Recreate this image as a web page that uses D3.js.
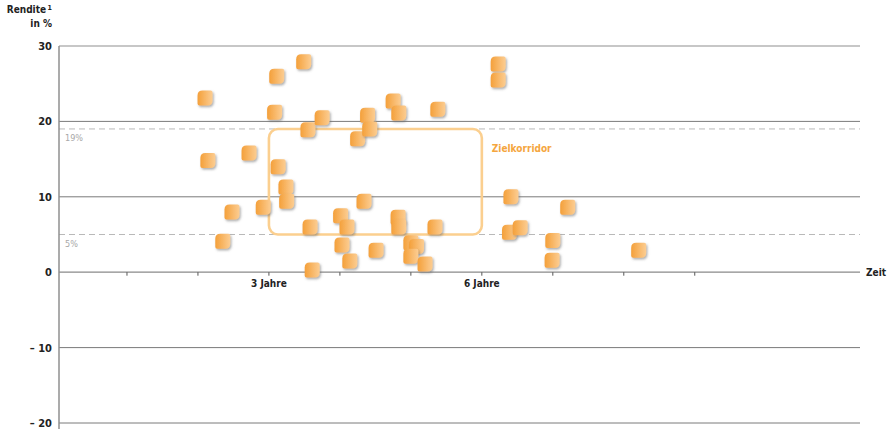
<!DOCTYPE html>
<html>
<head>
<meta charset="utf-8">
<script src="https://cdn.jsdelivr.net/npm/d3@7"></script>
<style>
  html, body { margin: 0; padding: 0; background: #fff; }
  svg { display: block; font-family: "DejaVu Sans Condensed", "DejaVu Sans", sans-serif; }
</style>
</head>
<body>
<svg id="chart" width="889" height="429"></svg>
<script>
// Holding period in years and annual return in percent for each investment
const years = [2.10, 2.14, 2.35, 2.48, 2.72, 2.92, 3.11, 3.08, 3.13, 3.24, 3.25, 3.49, 3.55, 3.75, 3.58,
  3.61, 4.01, 4.10, 4.03, 4.14, 4.25, 4.34, 4.39, 4.42, 4.51, 4.75, 4.83, 4.82, 4.83, 5.00,
  5.08, 5.00, 5.20, 5.34, 5.38, 6.23, 6.23, 6.41, 6.39, 6.54, 7.00, 6.99, 7.21, 8.21];
const returns = [23.1, 14.8, 4.1, 8.0, 15.8, 8.6, 26.0, 21.2, 14.0, 11.3, 9.4, 27.9, 18.9, 20.5, 6.0,
  0.3, 7.5, 6.0, 3.6, 1.5, 17.7, 9.4, 20.8, 19.0, 2.9, 22.7, 21.1, 7.3, 6.0, 3.9,
  3.4, 2.1, 1.1, 6.0, 21.6, 27.6, 25.5, 10.0, 5.3, 5.9, 4.2, 1.6, 8.6, 2.9];

const yTicks = [30, 20, 10, 0, -10, -20];
const yTickLabels = ["30", "20", "10", "0", "\u2013 10", "\u2013 20"];
const xTicks = [1, 2, 3, 4, 5, 6, 7, 8, 9];
const xTickLabels = { 3: "3 Jahre", 6: "6 Jahre" };
const corridor = { from: 3, to: 6, low: 5, high: 19 };
const corridorLabel = "Zielkorridor";
const bandLines = [19, 5];

const svg = d3.select("#chart");
const left = 59, right = 860;

const x = d3.scaleLinear().domain([0, 11.3]).range([56, 858]);
const y = d3.scaleLinear().domain([-20, 30]).range([423, 46]);

const defs = svg.append("defs");
const grad = defs.append("linearGradient").attr("id", "markerFill")
  .attr("x1", "0%").attr("x2", "100%").attr("y1", "0%").attr("y2", "0%");
grad.append("stop").attr("offset", "0%").attr("stop-color", "#f4a03a");
grad.append("stop").attr("offset", "100%").attr("stop-color", "#fccd92");
const shadow = defs.append("filter").attr("id", "markerShadow")
  .attr("x", "-40%").attr("y", "-40%").attr("width", "190%").attr("height", "190%");
shadow.append("feDropShadow").attr("dx", 1.2).attr("dy", 1.6).attr("stdDeviation", 1.1)
  .attr("flood-color", "#6a6a6a").attr("flood-opacity", 0.55);

// Horizontal grid lines (except zero line)
svg.append("g").selectAll("line").data(yTicks.filter(d => d !== 0)).join("line")
  .attr("x1", left).attr("x2", right)
  .attr("y1", d => y(d)).attr("y2", d => y(d))
  .attr("stroke", d => d === 30 ? "#b5b5b5" : "#7a7a7a")
  .attr("stroke-width", d => d === 30 ? 1.6 : 1);

// Dashed band lines at 19 % and 5 %
svg.append("g").selectAll("line").data(bandLines).join("line")
  .attr("x1", left).attr("x2", right)
  .attr("y1", d => y(d)).attr("y2", d => y(d))
  .attr("stroke", "#b9b9b9").attr("stroke-width", 1).attr("stroke-dasharray", "6,4");
svg.append("g").selectAll("text").data(bandLines).join("text")
  .attr("x", 65).attr("y", d => y(d) + 12)
  .attr("font-size", 9).attr("fill", "#a8a8a8")
  .text(d => d + "%");

// Target corridor
svg.append("rect")
  .attr("x", x(corridor.from)).attr("y", y(corridor.high))
  .attr("width", x(corridor.to) - x(corridor.from))
  .attr("height", y(corridor.low) - y(corridor.high))
  .attr("rx", 9).attr("ry", 9)
  .attr("fill", "none").attr("stroke", "#fbcf8f").attr("stroke-width", 2.6);
svg.append("text")
  .attr("x", x(corridor.to) + 10).attr("y", y(corridor.high) + 23)
  .attr("font-size", 10).attr("font-weight", "bold").attr("fill", "#f5a640")
  .text(corridorLabel);

// X axis (zero line) with year ticks
svg.append("line").attr("x1", left).attr("x2", right)
  .attr("y1", y(0)).attr("y2", y(0)).attr("stroke", "#8a8a8a").attr("stroke-width", 1.2);
svg.append("g").selectAll("line").data(xTicks).join("line")
  .attr("x1", d => x(d)).attr("x2", d => x(d))
  .attr("y1", y(0)).attr("y2", y(0) + 3.5)
  .attr("stroke", "#555").attr("stroke-width", 1);
svg.append("g").selectAll("text").data(xTicks.filter(d => xTickLabels[d])).join("text")
  .attr("x", d => x(d)).attr("y", y(0) + 15)
  .attr("text-anchor", "middle").attr("font-size", 10).attr("font-weight", "bold").attr("fill", "#222")
  .text(d => xTickLabels[d]);
svg.append("text").attr("x", 866).attr("y", y(0) + 3.5)
  .attr("font-size", 10).attr("font-weight", "bold").attr("fill", "#222").text("Zeit");

// Y axis
svg.append("line").attr("x1", left).attr("x2", left)
  .attr("y1", y(30)).attr("y2", 429).attr("stroke", "#8f8f8f").attr("stroke-width", 1.5);
svg.append("g").selectAll("text").data(yTicks).join("text")
  .attr("x", 52).attr("y", d => y(d) + 4)
  .attr("text-anchor", "end").attr("font-size", 11).attr("font-weight", "bold").attr("fill", "#222")
  .text((d, i) => yTickLabels[i]);

const title = svg.append("text").attr("text-anchor", "end")
  .attr("font-size", 10).attr("font-weight", "bold").attr("fill", "#222");
title.append("tspan").attr("x", 52).attr("y", 13).text("Rendite");
title.append("tspan").attr("dx", 1.5).attr("dy", -3).attr("font-size", 7).text("1");
title.append("tspan").attr("x", 52).attr("y", 27).text("in %");

// Investment markers: rounded leaf-shaped squares
const s = 7.5, rBig = 5, rSmall = 2;
const markerPath = [
  `M${-s + rBig},${-s}`,
  `L${s - rSmall},${-s}`, `Q${s},${-s} ${s},${-s + rSmall}`,
  `L${s},${s - rBig}`, `Q${s},${s} ${s - rBig},${s}`,
  `L${-s + rSmall},${s}`, `Q${-s},${s} ${-s},${s - rSmall}`,
  `L${-s},${-s + rBig}`, `Q${-s},${-s} ${-s + rBig},${-s}`, "Z"
].join(" ");

svg.append("g").attr("filter", null).selectAll("path").data(d3.range(years.length)).join("path")
  .attr("transform", i => `translate(${x(years[i])},${y(returns[i])})`)
  .attr("d", markerPath)
  .attr("fill", "url(#markerFill)")
  .attr("filter", "url(#markerShadow)");
</script>
</body>
</html>
